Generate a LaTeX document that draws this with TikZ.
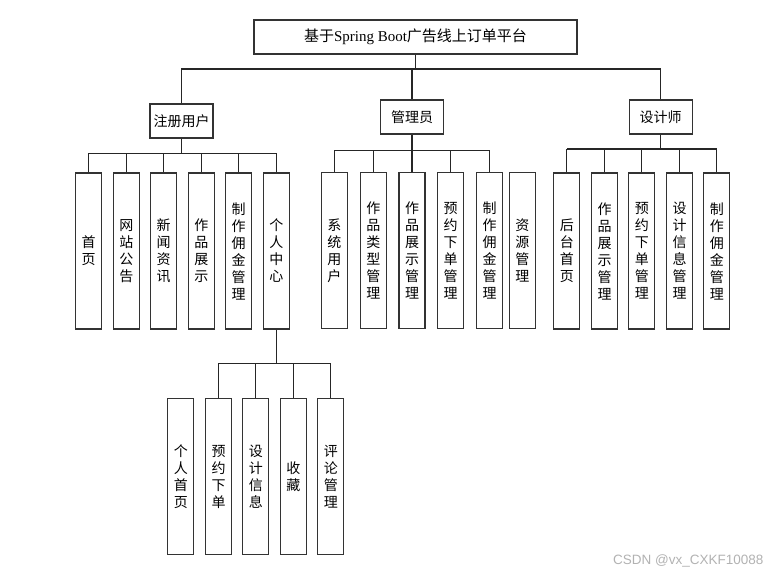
\documentclass[tikz,border=0pt]{standalone}
\usepackage{fontspec}
\newfontfamily\cjk{Noto Sans CJK SC}
\newfontfamily\latinserif{Liberation Serif}
\newfontfamily\wmfont{Liberation Sans}
\begin{document}
\begin{tikzpicture}[x=1pt,y=-1pt,
  box/.style={draw=black!80, line width=1.1pt, fill=white, inner sep=0pt, align=center, font=\cjk\fontsize{14}{17}\selectfont},
  vbox/.style={box, minimum width=26pt, minimum height=156pt},
  hbox/.style={box, minimum height=34pt},
  conn/.style={line width=1.1pt, draw=black!85}]
\useasboundingbox (0,0) rectangle (771,575);
% top levels
\node[hbox, minimum width=323pt, font=\cjk\fontsize{15}{17}\selectfont] (title) at (415.5,37) {基于{\latinserif Spring Boot}广告线上订单平台};
\node[hbox, minimum width=63pt] (reg) at (181.5,121) {注册用户};
\node[hbox, minimum width=63pt] (adm) at (412,117) {管理员};
\node[hbox, minimum width=63pt] (des) at (660.7,117) {设计师};
% registered user children
\node[vbox] (r1) at (88.7,251) {首\\页};
\node[vbox] (r2) at (126.3,251) {网\\站\\公\\告};
\node[vbox] (r3) at (163.7,251) {新\\闻\\资\\讯};
\node[vbox] (r4) at (201.3,251) {作\\品\\展\\示};
\node[vbox] (r5) at (238.7,251) {制\\作\\佣\\金\\管\\理};
\node[vbox] (r6) at (276.3,251) {个\\人\\中\\心};
% admin children
\node[vbox] (a1) at (334.3,250.5) {系\\统\\用\\户};
\node[vbox] (a2) at (373.3,250.5) {作\\品\\类\\型\\管\\理};
\node[vbox] (a3) at (412,250.5) {作\\品\\展\\示\\管\\理};
\node[vbox] (a4) at (450.7,250.5) {预\\约\\下\\单\\管\\理};
\node[vbox] (a5) at (489.7,250.5) {制\\作\\佣\\金\\管\\理};
\node[vbox] (a6) at (522.3,250.5) {资\\源\\管\\理};
% designer children
\node[vbox] (d1) at (566.8,251) {后\\台\\首\\页};
\node[vbox] (d2) at (604.5,251) {作\\品\\展\\示\\管\\理};
\node[vbox] (d3) at (641.8,251) {预\\约\\下\\单\\管\\理};
\node[vbox] (d4) at (679.5,251) {设\\计\\信\\息\\管\\理};
\node[vbox] (d5) at (716.8,251) {制\\作\\佣\\金\\管\\理};
% personal center children
\node[vbox] (p1) at (180.8,476.5) {个\\人\\首\\页};
\node[vbox] (p2) at (218.5,476.5) {预\\约\\下\\单};
\node[vbox] (p3) at (255.8,476.5) {设\\计\\信\\息};
\node[vbox] (p4) at (293.3,476.5) {收\\藏};
\node[vbox] (p5) at (330.8,476.5) {评\\论\\管\\理};
% junction coordinates
\coordinate (tj) at (415.5,69);
\coordinate (rb) at (181.5,153.5);
\coordinate (ab) at (412,150.5);
\coordinate (db) at (660.7,149);
\coordinate (pb) at (276.3,363.3);
% top connectors
\draw[conn] (title.south) -- (tj);
\draw[conn] (reg.north) -- (reg.north |- tj) -- (des.north |- tj) -- (des.north);
\draw[conn] (adm.north) -- (adm.north |- tj);
% registered user
\draw[conn] (reg.south) -- (rb);
\draw[conn] (r1.north |- rb) -- (r6.north |- rb);
\foreach \i in {1,...,6} \draw[conn] (r\i.north) -- (r\i.north |- rb);
% admin
\draw[conn] (adm.south) -- (ab);
\draw[conn] (a1.north |- ab) -- (a5.north |- ab);
\foreach \i in {1,...,5} \draw[conn] (a\i.north) -- (a\i.north |- ab);
% designer
\draw[conn] (des.south) -- (db);
\draw[conn] (d1.north |- db) -- (d5.north |- db);
\foreach \i in {1,...,5} \draw[conn] (d\i.north) -- (d\i.north |- db);
% personal center
\draw[conn] (r6.south) -- (pb);
\draw[conn] (p2.north |- pb) -- (p5.north |- pb);
\foreach \i in {2,...,5} \draw[conn] (p\i.north) -- (p\i.north |- pb);
% watermark
\node[anchor=west, font=\wmfont\fontsize{13.5}{15}\selectfont, text=black!30, inner sep=0pt] (wm) at (613,561) {CSDN @vx\_CXKF10088};
\end{tikzpicture}
\end{document}
